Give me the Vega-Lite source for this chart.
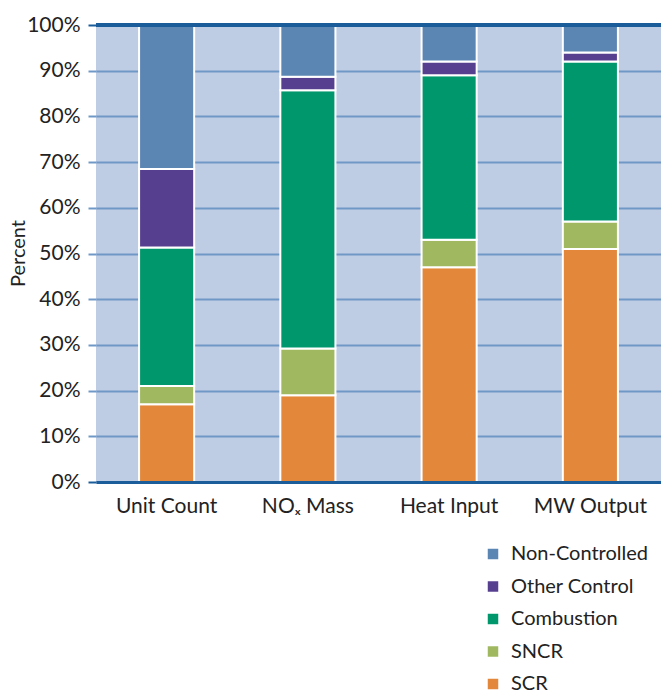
{
  "$schema": "https://vega.github.io/schema/vega-lite/v6.json",
  "width": 565,
  "height": 457,
  "autosize": {"type": "none"},
  "padding": {"left": 96, "top": 25, "right": 0, "bottom": 212},
  "background": "white",
  "config": {
    "font": "Lato",
    "view": {"fill": "#bfcde4", "stroke": null}
  },
  "data": {
    "values": [
      {"metric": "Unit Count", "type": "SCR", "ord": 1, "pct": 17},
      {"metric": "Unit Count", "type": "SNCR", "ord": 2, "pct": 4},
      {"metric": "Unit Count", "type": "Combustion", "ord": 3, "pct": 30.3},
      {"metric": "Unit Count", "type": "Other Control", "ord": 4, "pct": 17.2},
      {"metric": "Unit Count", "type": "Non-Controlled", "ord": 5, "pct": 31.5},
      {"metric": "NOₓ Mass", "type": "SCR", "ord": 1, "pct": 19},
      {"metric": "NOₓ Mass", "type": "SNCR", "ord": 2, "pct": 10.2},
      {"metric": "NOₓ Mass", "type": "Combustion", "ord": 3, "pct": 56.5},
      {"metric": "NOₓ Mass", "type": "Other Control", "ord": 4, "pct": 3},
      {"metric": "NOₓ Mass", "type": "Non-Controlled", "ord": 5, "pct": 11.3},
      {"metric": "Heat Input", "type": "SCR", "ord": 1, "pct": 47},
      {"metric": "Heat Input", "type": "SNCR", "ord": 2, "pct": 6},
      {"metric": "Heat Input", "type": "Combustion", "ord": 3, "pct": 36},
      {"metric": "Heat Input", "type": "Other Control", "ord": 4, "pct": 3},
      {"metric": "Heat Input", "type": "Non-Controlled", "ord": 5, "pct": 8},
      {"metric": "MW Output", "type": "SCR", "ord": 1, "pct": 51},
      {"metric": "MW Output", "type": "SNCR", "ord": 2, "pct": 6},
      {"metric": "MW Output", "type": "Combustion", "ord": 3, "pct": 35},
      {"metric": "MW Output", "type": "Other Control", "ord": 4, "pct": 2},
      {"metric": "MW Output", "type": "Non-Controlled", "ord": 5, "pct": 6}
    ]
  },
  "layer": [
    {
      "mark": {"type": "bar", "stroke": "white", "strokeWidth": 2},
      "encoding": {
        "x": {
          "field": "metric",
          "type": "nominal",
          "sort": ["Unit Count", "NOₓ Mass", "Heat Input", "MW Output"],
          "scale": {"paddingInner": 0.61, "paddingOuter": 0.305},
          "axis": {
            "title": null,
            "labelAngle": 0,
            "labelFontSize": 21,
            "labelColor": "#222222",
            "labelPadding": 13,
            "ticks": false,
            "domainColor": "#1a5d9a",
            "domainWidth": 3,
            "zindex": 1
          }
        },
        "y": {
          "field": "pct",
          "type": "quantitative",
          "stack": "zero",
          "scale": {"domain": [0, 100], "nice": false},
          "axis": {
            "title": "Percent",
            "titleFontSize": 20,
            "titleFontWeight": "normal",
            "titleColor": "#222222",
            "titleX": -78,
            "titleY": 228,
            "titleBaseline": "middle",
            "titleAnchor": "middle",
            "values": [0, 10, 20, 30, 40, 50, 60, 70, 80, 90, 100],
            "labelExpr": "datum.value + '%'",
            "labelFontSize": 21,
            "labelColor": "#222222",
            "labelPadding": 8,
            "domain": false,
            "tickSize": 8,
            "tickWidth": 2,
            "tickColor": {"condition": {"test": "datum.value === 0 || datum.value === 100", "value": "#1a5d9a"}, "value": "#7098c6"},
            "gridColor": "#7098c6",
            "gridWidth": 2
          }
        },
        "color": {
          "field": "type",
          "type": "nominal",
          "scale": {
            "domain": ["Non-Controlled", "Other Control", "Combustion", "SNCR", "SCR"],
            "range": ["#5b86b3", "#573f8f", "#00976c", "#a0b960", "#e3873a"]
          },
          "legend": {
            "title": null,
            "orient": "none",
            "legendX": 387,
            "legendY": 519,
            "symbolType": "square",
            "symbolSize": 110,
            "symbolStrokeWidth": 0,
            "labelFontSize": 20,
            "labelColor": "#222222",
            "labelOffset": 8,
            "rowPadding": 12.5
          }
        },
        "order": {"field": "ord", "type": "quantitative"}
      }
    },
    {
      "mark": {"type": "rule", "color": "#1a5d9a", "strokeWidth": 3},
      "encoding": {"y": {"datum": 100}}
    }
  ]
}
